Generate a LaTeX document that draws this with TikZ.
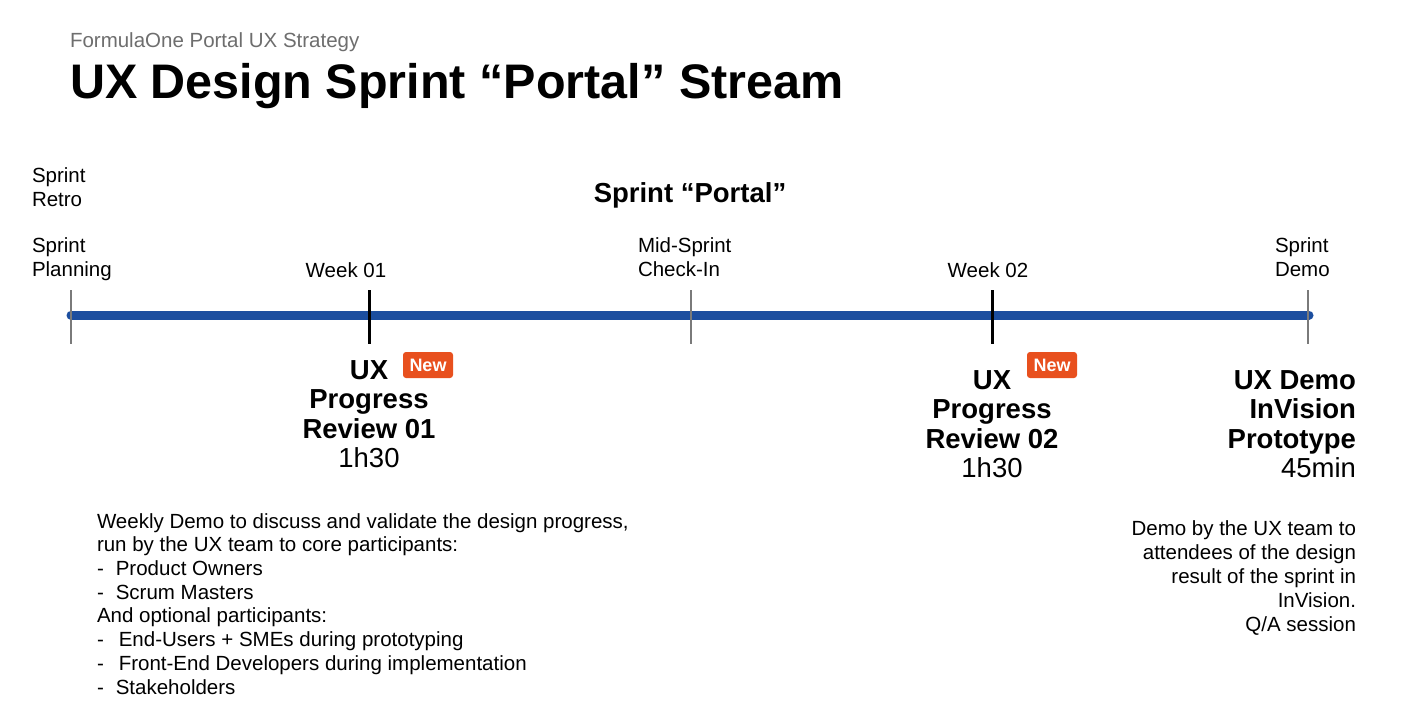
\documentclass[tikz,border=0pt]{standalone}
\usepackage{fontspec}
\setmainfont{Liberation Sans}
\definecolor{timeline}{HTML}{1C4E9F}
\definecolor{badge}{HTML}{E8501E}
\definecolor{subgray}{HTML}{6E6E6E}
\definecolor{tickgray}{HTML}{7A7A7A}
\begin{document}
\begin{tikzpicture}[x=1pt,y=-1pt,
  every node/.style={inner sep=0pt,outer sep=0pt},
  % multi-line nodes are placed by the baseline of their last line
  label/.style={font={\fontsize{20.5}{24}\selectfont},align=left,anchor=base west},
  labelc/.style={font={\fontsize{20.5}{24}\selectfont},align=center,anchor=base},
  event/.style={font={\fontsize{27.5}{29.5}\selectfont\bfseries},align=center,anchor=base},
  eventr/.style={font={\fontsize{27.5}{29.5}\selectfont\bfseries},align=right,anchor=base east},
  newbadge/.style={fill=badge,text=white,rounded corners=3pt,minimum width=50pt,minimum height=26pt,
    font={\fontsize{18}{18}\selectfont\bfseries},anchor=center},
  desc/.style={font={\fontsize{20.5}{23.7}\selectfont},anchor=base west,align=left},
  descr/.style={font={\fontsize{20.5}{24}\selectfont},anchor=base east,align=right},
  minortick/.style={draw=tickgray,line width=1.2pt},
  majortick/.style={draw=black,line width=3pt},
]
\path[use as bounding box,fill=white] (0,0) rectangle (1418,714);

% headings
\node[anchor=base west,text=subgray,font={\fontsize{20.5}{24}\selectfont}] (subtitle) at (70,48) {FormulaOne Portal UX Strategy};
\node[anchor=base west,font={\fontsize{48.5}{50}\selectfont\bfseries}] (title) at (70,99) {UX Design Sprint “Portal” Stream};
\node[anchor=base,font={\fontsize{27.5}{30}\selectfont\bfseries}] (sprint) at (690,202) {Sprint “Portal”};

% timeline
\coordinate (tstart) at (71,315);
\coordinate (tend) at (1309,315);
\draw[timeline,line width=9pt,line cap=round] (tstart) -- (tend);

% tick marks
\coordinate (p0a) at (71,290);   \coordinate (p0b) at (71,344);
\coordinate (w1a) at (369,290);  \coordinate (w1b) at (369,344);
\coordinate (mida) at (691,290); \coordinate (midb) at (691,344);
\coordinate (w2a) at (992,290);  \coordinate (w2b) at (992,344);
\coordinate (enda) at (1308,290);\coordinate (endb) at (1308,344);
\draw[minortick] (p0a) -- (p0b);
\draw[minortick] (mida) -- (midb);
\draw[minortick] (enda) -- (endb);
\draw[majortick] (w1a) -- (w1b);
\draw[majortick] (w2a) -- (w2b);

% milestone labels above the line
\node[label] (retro) at (32,207) {Sprint\\Retro};
\node[label] (planning) at (32,276) {Sprint\\Planning};
\node[labelc] (week1) at (346,277) {Week 01};
\node[label] (midsprint) at (638,276) {Mid-Sprint\\Check-In};
\node[labelc] (week2) at (988,277) {Week 02};
\node[label] (demo) at (1275,276) {Sprint\\Demo};

% events below the line
\node[event] (review1) at (369,467.5) {UX\\Progress\\Review 01\\{\mdseries 1h30}};
\node[newbadge] (new1) at (428,365) {New};
\node[event] (review2) at (992,477.5) {UX\\Progress\\Review 02\\{\mdseries 1h30}};
\node[newbadge] (new2) at (1052,365) {New};
\node[eventr] (uxdemo) at (1356,477.5) {UX Demo\\InVision\\Prototype\\{\mdseries 45min}};

% descriptions
\node[desc] (weekly) at (97,694) {Weekly Demo to discuss and validate the design progress,\\
run by the UX team to core participants:\\
-\hspace{12pt}Product Owners\\
-\hspace{12pt}Scrum Masters\\
And optional participants:\\
-\hspace{15pt}End-Users + SMEs during prototyping\\
-\hspace{15pt}Front-End Developers during implementation\\
-\hspace{12pt}Stakeholders};
\node[descr] (demodesc) at (1356,631) {Demo by the UX team to\\
attendees of the design\\
result of the sprint in\\
InVision.\\
Q/A session};
\end{tikzpicture}
\end{document}
